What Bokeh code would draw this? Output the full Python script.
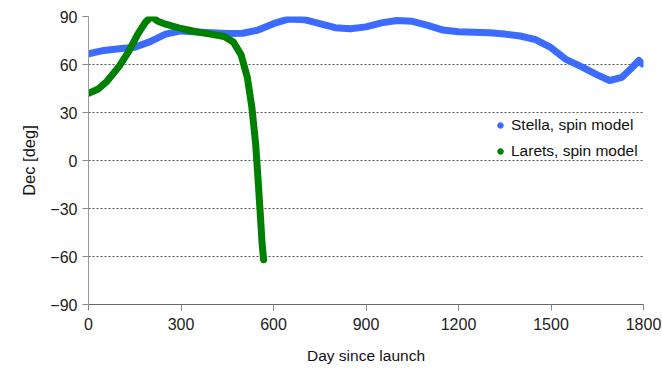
from bokeh.plotting import figure
from bokeh.models import (ColumnDataSource, Legend, LegendItem, FixedTicker,
                          Range1d)
from bokeh.embed import file_html
from bokeh.resources import INLINE

# Declination of the satellites' spin axis versus days since launch
stella_day = [0, 50, 100, 150, 200, 250, 300, 350, 400, 450, 500, 550, 600,
              650, 700, 750, 800, 850, 900, 950, 1000, 1050, 1100, 1150, 1200,
              1250, 1300, 1350, 1400, 1450, 1500, 1550, 1600, 1650, 1690,
              1730, 1760, 1785, 1796]
stella_dec = [66.7, 68.8, 69.9, 70.8, 74.3, 79.0, 81.0, 80.3, 79.8, 79.3,
              79.5, 81.5, 85.5, 88.5, 88.0, 85.5, 83.0, 82.3, 83.5, 86.0,
              87.5, 87.0, 84.5, 81.5, 80.5, 80.2, 79.8, 79.0, 77.8, 75.5,
              70.5, 63.0, 58.5, 53.5, 50.0, 52.0, 57.5, 62.5, 60.4]

larets_day = [0, 30, 60, 100, 130, 160, 185, 204, 225, 250, 300, 350, 400,
              440, 470, 495, 515, 530, 542, 550, 557, 563, 568]
larets_dec = [42.0, 44.5, 49.5, 59.0, 68.0, 79.0, 86.5, 90.0, 87.0, 85.2,
              82.5, 80.5, 78.8, 77.5, 74.0, 66.0, 52.0, 33.0, 10.6, -12.0,
              -33.0, -52.0, -62.0]

x_ticks = [0, 300, 600, 900, 1200, 1500, 1800]
y_ticks = [-90, -60, -30, 0, 30, 60, 90]

series_names = ["Stella, spin model", "Larets, spin model"]
series_colors = ["#3b6cff", "#008000"]

FONT = "Liberation Sans"

p = figure(width=662, height=371, output_backend="svg", toolbar_location=None,
           x_range=Range1d(0, 1800), y_range=Range1d(-90, 90),
           min_border_left=88, min_border_right=19, min_border_top=16,
           min_border_bottom=67)
p.outline_line_color = None
p.background_fill_color = "white"
p.border_fill_color = "white"

# axes
p.xaxis.ticker = FixedTicker(ticks=x_ticks)
p.yaxis.ticker = FixedTicker(ticks=y_ticks)
for ax in (p.xaxis[0], p.yaxis[0]):
    ax.minor_tick_line_color = None
    ax.major_tick_in = 0
    ax.major_tick_out = 6
    ax.major_label_text_font = FONT
    ax.major_label_text_font_size = "16px"
    ax.major_label_text_color = "#222222"
    ax.axis_label_text_font = FONT
    ax.axis_label_text_font_style = "normal"
    ax.axis_label_text_color = "#111111"
p.xaxis.axis_label_text_font_size = "15.5px"
p.yaxis.axis_label_text_font_size = "16.5px"
p.xaxis.axis_line_color = "#666666"
p.xaxis.major_tick_line_color = "#888888"
p.yaxis.axis_line_color = "#999999"
p.yaxis.major_tick_line_color = "#888888"
p.xaxis.major_label_standoff = 7
p.yaxis.major_label_standoff = 5
p.xaxis.axis_label = "Day since launch"
p.yaxis.axis_label = "Dec [deg]"
p.xaxis.axis_label_standoff = 14
p.yaxis.axis_label_standoff = 9

# grid: dotted horizontal lines only
p.xgrid.grid_line_color = None
p.ygrid.grid_line_color = "#555555"
p.ygrid.grid_line_dash = "2 2"
p.ygrid.grid_line_width = 1

# curves
stella_src = ColumnDataSource(dict(x=stella_day, y=stella_dec))
larets_src = ColumnDataSource(dict(x=larets_day, y=larets_dec))
p.line("x", "y", source=stella_src, line_color=series_colors[0],
       line_width=7, line_join="round", line_cap="round")
p.line("x", "y", source=larets_src, line_color=series_colors[1],
       line_width=7, line_join="round", line_cap="round")

# legend entries drawn as round dots (marker placed outside the visible range)
items = []
for name, color in zip(series_names, series_colors):
    r = p.scatter(x=[-10000], y=[-1000], marker="circle", size=6,
                  fill_color=color, line_color=color)
    items.append(LegendItem(label=name, renderers=[r]))

legend = Legend(items=items, location=(405, 143), orientation="vertical",
                padding=0, margin=0, spacing=6, glyph_width=14,
                glyph_height=14, label_standoff=4, label_height=20,
                label_text_font=FONT, label_text_font_size="15.5px",
                label_text_color="#111111", background_fill_alpha=0,
                border_line_color=None)
p.add_layout(legend)

open("out.html", "w").write(file_html(p, INLINE))
